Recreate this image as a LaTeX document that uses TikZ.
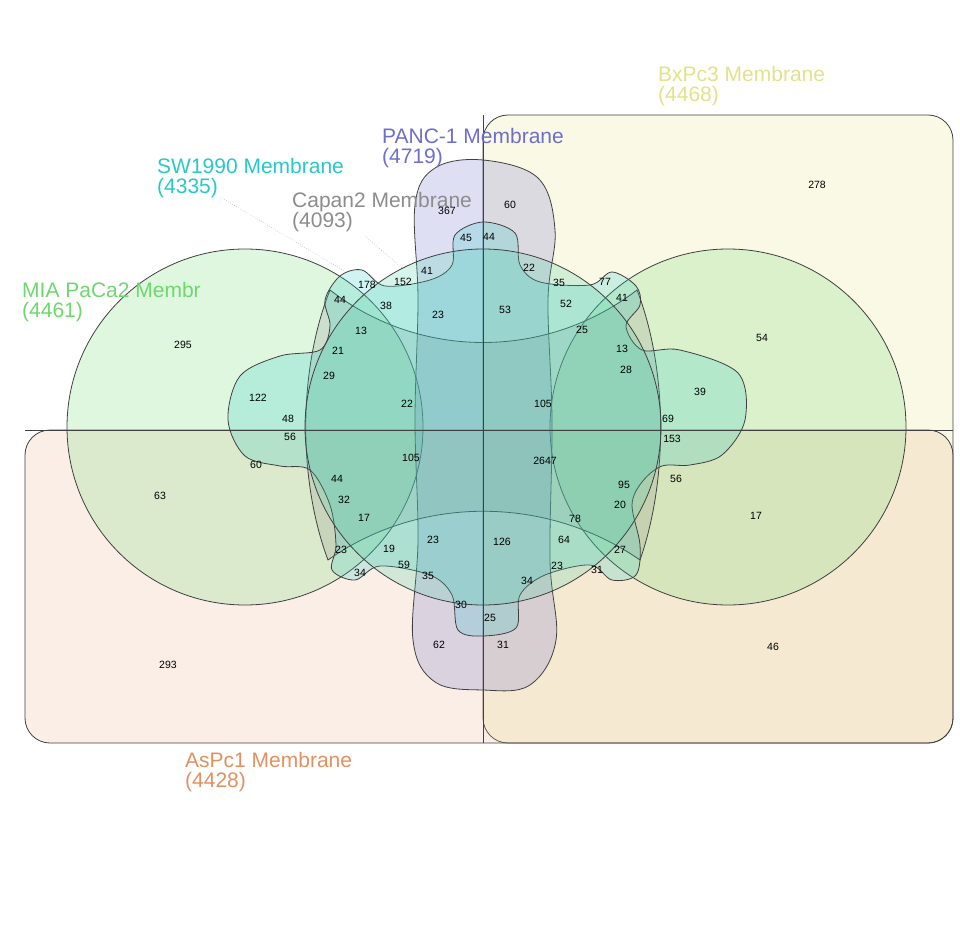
\documentclass[tikz,border=0pt]{standalone}
\usepackage{fontspec}
\setmainfont{Liberation Sans}
\usetikzlibrary{positioning}
\definecolor{bxcolor}{RGB}{226,226,140}
\definecolor{pancolor}{RGB}{110,110,205}
\definecolor{swcolor}{RGB}{40,200,200}
\definecolor{capcolor}{RGB}{140,140,140}
\definecolor{miacolor}{RGB}{110,215,110}
\definecolor{ascolor}{RGB}{225,145,95}
\begin{document}
\begin{tikzpicture}[x=1pt, y=-1pt,
    setline/.style={draw=black!75, line width=0.8pt, fill opacity=0.22},
    num/.style={font=\fontsize{10.5}{11}\selectfont, inner sep=0pt},
    setlabel/.style={font=\fontsize{21}{20}\selectfont, align=left, anchor=north west, inner sep=0pt}
]
\useasboundingbox (0,0) rectangle (960,925);

% Sets
\draw[setline, fill=bxcolor, rounded corners=25] (483,115) rectangle (953,743);
\draw[setline, fill=ascolor!70, rounded corners=25] (25,430) rectangle (953,743);
\draw[setline, fill=miacolor] (245,427) circle (178);
\draw[setline, fill=miacolor] (728,427) circle (178);
\draw[setline, fill=pancolor] plot[smooth cycle, tension=0.6] coordinates {
  (483,160) (538,178) (555,230) (548,300) (552,420) (550,560) (556,640) (530,685)
  (483,690) (435,682) (413,640) (418,540) (415,420) (418,300) (415,205) (435,168)};
\draw[setline, fill=capcolor] (330,290) .. controls (420,360) and (546,360) .. (637,290)
  .. controls (668,370) and (668,480) .. (640,560)
  .. controls (546,495) and (420,495) .. (328,560)
  .. controls (298,480) and (298,370) .. (330,290) -- cycle;
\draw[setline, fill=swcolor] plot[smooth cycle, tension=0.55] coordinates {
  (483,222) (515,233) (520,265) (540,282) (590,285) (612,272) (636,286) (640,305)
  (626,326) (642,350) (680,350) (738,373) (745,420) (722,455) (690,465) (662,466)
  (642,482) (632,505) (640,545) (636,575) (612,580) (590,565) (545,575) (520,595)
  (516,628) (483,636) (458,630) (452,595) (430,575) (380,566) (355,580) (332,570)
  (336,545) (330,505) (310,470) (280,466) (245,456) (228,420) (240,376) (280,356)
  (320,350) (330,326) (325,300) (340,276) (362,270) (385,286) (430,280) (452,265) (455,235)};
\draw[setline, fill=swcolor!60!miacolor] (483,427) circle (178);
\draw[black!75, line width=0.8pt] (483,115) -- (483,743);
\draw[black!75, line width=0.8pt] (25,430) -- (953,430);

% Set labels
\node[setlabel, text=bxcolor] (bx) at (658,66) {BxPc3 Membrane\\(4468)};
\node[setlabel, text=pancolor] (pan) at (382,128) {PANC-1 Membrane\\(4719)};
\node[setlabel, text=swcolor] (sw) at (157,158) {SW1990 Membrane\\(4335)};
\node[setlabel, text=capcolor] (cap) at (292,192) {Capan2 Membrane\\(4093)};
\node[setlabel, text=miacolor] (mia) at (22,282) {MIA PaCa2 Membr\\(4461)};
\node[setlabel, text=ascolor] (as) at (185,752) {AsPc1 Membrane\\(4428)};
\coordinate (swstart) at (222,198);
\coordinate (swend) at (346,272);
\coordinate (capstart) at (365,236);
\coordinate (capend) at (402,268);
\draw[black!50, dotted] (swstart) -- (swend);
\draw[black!50, dotted] (capstart) -- (capend);

% Counts
\foreach \x/\y/\n in {
  817/185/278, 510/205/60, 447/211/367, 466/238/45, 489/237/44,
  529/268/22, 559/283/35, 605/282/77, 622/298/41, 566/304/52,
  582/330/25, 505/310/53, 438/315/23, 403/282/152, 427/271/41,
  367/285/178, 340/300/44, 386/306/38, 361/331/13, 338/351/21,
  329/376/29, 183/345/295, 258/398/122, 288/419/48, 290/437/56,
  256/465/60, 160/496/63, 407/404/22, 543/404/105, 762/338/54,
  622/349/13, 626/370/28, 700/392/39, 668/419/69, 672/439/153,
  411/458/105, 545/461/2647, 624/485/95, 620/505/20, 676/479/56,
  756/516/17, 337/479/44, 344/500/32, 364/518/17, 341/550/23,
  389/549/19, 360/573/34, 404/565/59, 428/576/35, 433/540/23,
  502/542/126, 575/519/78, 564/540/64, 620/550/27, 557/566/23,
  597/570/31, 527/581/34, 461/605/30, 490/618/25, 439/645/62,
  503/645/31, 168/665/293, 773/647/46}
  \node[num] at (\x,\y) {\n};
\end{tikzpicture}
\end{document}
